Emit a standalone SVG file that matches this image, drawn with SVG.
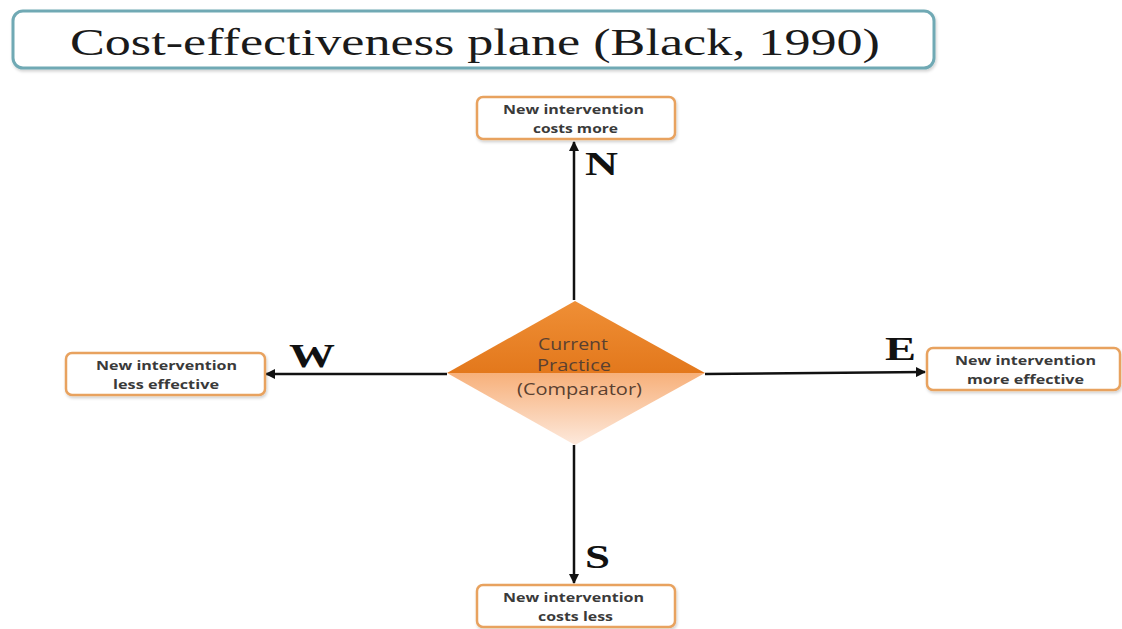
<svg xmlns="http://www.w3.org/2000/svg" width="1122" height="629" viewBox="0 0 1122 629">
<defs>
<style>
.box{fill:#fff;stroke:#e8a25e;stroke-width:2.5}
.bt{font-family:"Open Sans","Liberation Sans",sans-serif;font-weight:bold;font-size:12px;fill:#3a3a3a}
.dir{font-family:"Liberation Serif",serif;font-weight:bold;font-size:33px;fill:#111}
.conn{stroke:#111;stroke-width:2.5;fill:none}
.dt{font-family:"Open Sans","Liberation Sans",sans-serif;font-size:16px;fill:#5a4030}
</style>
<marker id="ah" viewBox="0 0 10 10" refX="9" refY="5" markerWidth="4" markerHeight="4" orient="auto"><path d="M0,0 L10,5 L0,10 z" fill="#111"/></marker>
<linearGradient id="top" x1="0" y1="0" x2="0" y2="1"><stop offset="0" stop-color="#ef8f36"/><stop offset="1" stop-color="#e3781c"/></linearGradient>
<linearGradient id="bot" x1="0" y1="0" x2="0" y2="1"><stop offset="0" stop-color="#f7b07a"/><stop offset="1" stop-color="#fde9dc"/></linearGradient>
<filter id="sh" x="-10%" y="-20%" width="120%" height="150%"><feDropShadow dx="1" dy="2" stdDeviation="1.5" flood-color="#000" flood-opacity="0.18"/></filter>
</defs>
<rect width="1122" height="629" fill="#fff"/>
<g id="title">
<rect x="13" y="11" width="921" height="57" rx="10" fill="#fff" stroke="#6fa9b4" stroke-width="3" filter="url(#sh)"/>
<text x="70" y="55" font-family="Liberation Serif,serif" font-size="38" fill="#1a1a1a" textLength="810" lengthAdjust="spacingAndGlyphs">Cost-effectiveness plane (Black, 1990)</text>
</g>
<g id="connectors">
<line class="conn" x1="574" y1="300" x2="574" y2="142" marker-end="url(#ah)"/>
<line class="conn" x1="574" y1="445" x2="574" y2="583" marker-end="url(#ah)"/>
<line class="conn" x1="447" y1="374" x2="266" y2="374" marker-end="url(#ah)"/>
<line class="conn" x1="705" y1="374" x2="925" y2="372" marker-end="url(#ah)"/>
<text class="dir" x="585" y="175" textLength="33" lengthAdjust="spacingAndGlyphs">N</text>
<text class="dir" x="585" y="568" textLength="25" lengthAdjust="spacingAndGlyphs">S</text>
<text class="dir" x="289" y="367" textLength="46" lengthAdjust="spacingAndGlyphs">W</text>
<text class="dir" x="885" y="360" textLength="31" lengthAdjust="spacingAndGlyphs">E</text>
</g>
<g id="comparator">
<path d="M447,373 L575,301 L705,373 Z" fill="url(#top)"/>
<path d="M447,373 L705,373 L575,445 Z" fill="url(#bot)"/>
<text class="dt" x="538" y="350" textLength="70" lengthAdjust="spacingAndGlyphs">Current</text>
<text class="dt" x="537" y="371" textLength="74" lengthAdjust="spacingAndGlyphs">Practice</text>
<text class="dt" x="517" y="395" textLength="125" lengthAdjust="spacingAndGlyphs">(Comparator)</text>
</g>
<g id="north">
<rect class="box" x="477" y="97" width="198" height="42" rx="6" filter="url(#sh)"/>
<text class="bt" x="503" y="114" textLength="141" lengthAdjust="spacingAndGlyphs">New intervention</text>
<text class="bt" x="533" y="133" textLength="85" lengthAdjust="spacingAndGlyphs">costs more</text>
</g>
<g id="south">
<rect class="box" x="477" y="585" width="198" height="42" rx="6" filter="url(#sh)"/>
<text class="bt" x="503" y="602" textLength="141" lengthAdjust="spacingAndGlyphs">New intervention</text>
<text class="bt" x="538" y="621" textLength="75" lengthAdjust="spacingAndGlyphs">costs less</text>
</g>
<g id="west">
<rect class="box" x="66" y="353" width="199" height="42" rx="6" filter="url(#sh)"/>
<text class="bt" x="96" y="370" textLength="141" lengthAdjust="spacingAndGlyphs">New intervention</text>
<text class="bt" x="113" y="389" textLength="106" lengthAdjust="spacingAndGlyphs">less effective</text>
</g>
<g id="east">
<rect class="box" x="927" y="348" width="193" height="42" rx="6" filter="url(#sh)"/>
<text class="bt" x="955" y="365" textLength="141" lengthAdjust="spacingAndGlyphs">New intervention</text>
<text class="bt" x="967" y="384" textLength="117" lengthAdjust="spacingAndGlyphs">more effective</text>
</g>
</svg>
